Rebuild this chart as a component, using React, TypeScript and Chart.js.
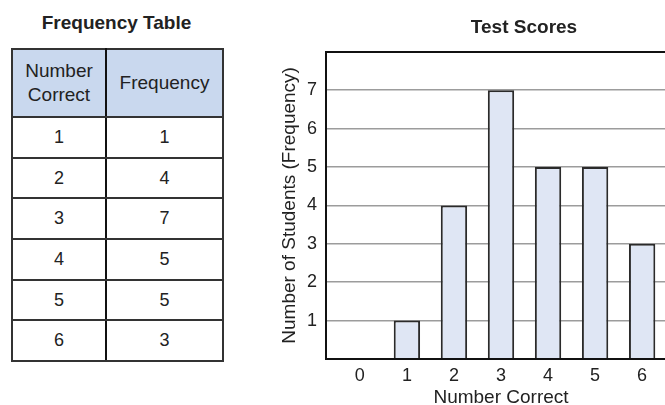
import React, { useEffect, useRef } from "react";
import { Chart, registerables } from "chart.js";

Chart.register(...registerables);

const numberCorrect = [1, 2, 3, 4, 5, 6];
const frequency = [1, 4, 7, 5, 5, 3];
const xTickValues = [0, 1, 2, 3, 4, 5, 6];
const yTickValues = [0, 1, 2, 3, 4, 5, 6, 7, 8];
const yTickLabels = ["", "1", "2", "3", "4", "5", "6", "7", ""];
const tableTitle = "Frequency Table";
const tableHeaders = [["Number", "Correct"], ["Frequency"]];
const chartTitle = "Test Scores";
const xTitle = "Number Correct";
const yTitle = "Number of Students (Frequency)";

const FONT = "'Liberation Sans', Arial, Helvetica, sans-serif";
const TEXT = "#222";

function FrequencyTable() {
  const cellBorder = "2px solid #333";
  const tdBase: React.CSSProperties = {
    border: cellBorder,
    textAlign: "center",
    verticalAlign: "middle",
    padding: 0,
    fontSize: 18,
    color: TEXT,
  };
  return (
    <>
      <div
        style={{
          position: "absolute",
          left: 11,
          top: 12,
          width: 211,
          textAlign: "center",
          fontWeight: "bold",
          fontSize: 19,
          color: TEXT,
        }}
      >
        {tableTitle}
      </div>
      <table
        style={{
          position: "absolute",
          left: 11,
          top: 48,
          width: 211,
          borderCollapse: "collapse",
          tableLayout: "fixed",
          fontFamily: FONT,
        }}
      >
        <colgroup>
          <col style={{ width: 94 }} />
          <col style={{ width: 117 }} />
        </colgroup>
        <thead>
          <tr>
            {tableHeaders.map((h, i) => (
              <th
                key={i}
                style={{
                  ...tdBase,
                  fontWeight: "normal",
                  fontSize: 19,
                  background: "#c9d8ee",
                  height: 66,
                  lineHeight: "24px",
                  borderRight: i === 0 ? "2px solid #111" : cellBorder,
                }}
              >
                {h.map((line, j) => (
                  <div key={j}>{line}</div>
                ))}
              </th>
            ))}
          </tr>
        </thead>
        <tbody>
          {numberCorrect.map((n, i) => (
            <tr key={n}>
              <td style={{ ...tdBase, height: 38.7, borderRight: "2px solid #111" }}>{n}</td>
              <td style={{ ...tdBase, height: 38.7 }}>{frequency[i]}</td>
            </tr>
          ))}
        </tbody>
      </table>
    </>
  );
}

function ScoresChart() {
  const ref = useRef<HTMLCanvasElement | null>(null);
  useEffect(() => {
    if (!ref.current) return;
    Chart.defaults.font.family = FONT;
    const isEdge = (v: number) => v === 0 || v === 8;
    const chart = new Chart(ref.current, {
      type: "bar",
      data: {
        datasets: [
          {
            data: numberCorrect.map((x, i) => ({ x, y: frequency[i] })),
            backgroundColor: "#dfe6f4",
            borderColor: "#2a2a2a",
            borderWidth: 2,
            categoryPercentage: 1,
            barPercentage: 0.56,
          } as any,
        ],
      },
      options: {
        responsive: false,
        animation: false,
        devicePixelRatio: 1,
        layout: { padding: 0 },
        plugins: {
          legend: { display: false },
          tooltip: { enabled: false },
          title: {
            display: true,
            text: chartTitle,
            color: TEXT,
            font: { size: 19, weight: "bold" },
            padding: { top: 16, bottom: 13 },
          },
        },
        scales: {
          x: {
            type: "linear",
            offset: false,
            min: -0.72,
            max: 6.72,
            afterBuildTicks: (s: any) => {
              s.ticks = xTickValues.map((v) => ({ value: v }));
            },
            afterFit: (s: any) => {
              s.height = 61;
            },
            grid: { display: false, drawTicks: false },
            border: { display: true, color: "#111", width: 2 },
            ticks: {
              padding: 6,
              color: TEXT,
              font: { size: 18 },
              callback: (v: any) => String(v),
            },
            title: {
              display: true,
              text: xTitle,
              color: TEXT,
              font: { size: 19 },
              padding: { top: 0, bottom: 10.6 },
            },
          },
          y: {
            type: "linear",
            position: "left",
            min: 0,
            max: 8,
            afterBuildTicks: (s: any) => {
              s.ticks = yTickValues.map((v) => ({ value: v }));
            },
            afterFit: (s: any) => {
              s.width = 56;
            },
            grid: {
              drawTicks: false,
              color: (c: any) => (c.tick && isEdge(c.tick.value) ? "#111" : "#9c9c9c"),
              lineWidth: (c: any) => (c.tick && isEdge(c.tick.value) ? 2 : 1.5),
            },
            border: { display: true, color: "#111", width: 2 },
            ticks: {
              padding: 9,
              color: TEXT,
              font: { size: 18 },
              callback: (v: any) => yTickLabels[yTickValues.indexOf(Number(v))] ?? "",
            },
            title: {
              display: true,
              text: yTitle,
              color: TEXT,
              font: { size: 19 },
              padding: { top: 8.6, bottom: 0 },
            },
          },
          yRight: {
            type: "linear",
            position: "right",
            display: true,
            afterFit: (s: any) => {
              s.width = 102;
            },
            grid: { display: false, drawTicks: false },
            border: { display: false },
            ticks: { display: false },
          },
        },
      } as any,
    });
    return () => chart.destroy();
  }, []);
  return (
    <canvas
      ref={ref}
      width={508}
      height={420}
      style={{ position: "absolute", left: 270, top: 0, width: 508, height: 420 }}
    />
  );
}

export default function App() {
  return (
    <div
      style={{
        position: "absolute",
        left: 0,
        top: 0,
        width: 665,
        height: 405,
        overflow: "hidden",
        background: "#fff",
        fontFamily: FONT,
      }}
    >
      <FrequencyTable />
      <ScoresChart />
    </div>
  );
}
